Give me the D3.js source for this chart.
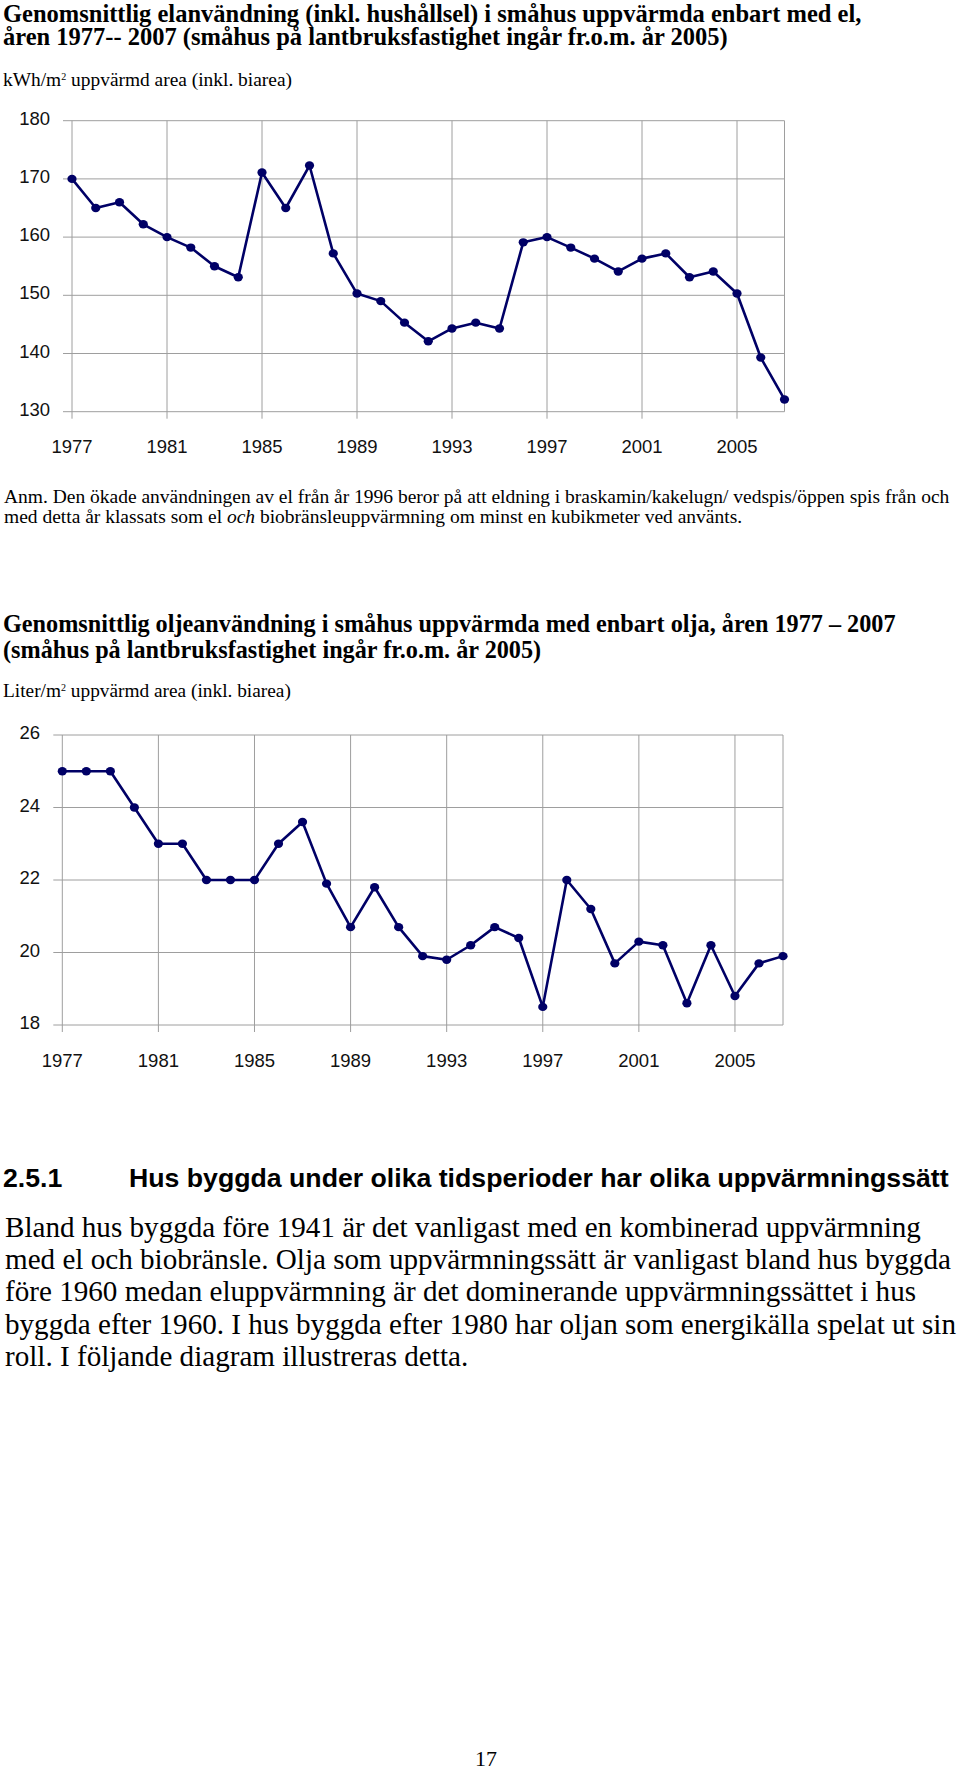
<!DOCTYPE html>
<html>
<head>
<meta charset="utf-8">
<script src="https://cdn.jsdelivr.net/npm/d3@7"></script>
<style>
  body { margin: 0; background: #fff; }
  svg { display: block; }
</style>
</head>
<body>
<svg id="page" width="960" height="1770"></svg>
<script>
// år 1977 - 2007
const years = d3.range(1977, 2008);

// kWh/m2, småhus med enbart el
const elValues = [170, 165, 166, 162.2, 160, 158.2, 155, 153.1, 171.1, 165, 172.3,
  157.2, 150.3, 149, 145.3, 142.1, 144.3, 145.3, 144.3, 159.1, 160, 158.2, 156.3,
  154.1, 156.3, 157.2, 153.1, 154.1, 150.3, 139.3, 132.1];

// liter/m2, småhus med enbart olja
const oljaValues = [25, 25, 25, 24, 23, 23, 22, 22, 22, 23, 23.6, 21.9, 20.7, 21.8,
  20.7, 19.9, 19.8, 20.2, 20.7, 20.4, 18.5, 22, 21.2, 19.7, 20.3, 20.2, 18.6, 20.2,
  18.8, 19.7, 19.9];

const xTickYears = [1977, 1981, 1985, 1989, 1993, 1997, 2001, 2005];
const elTicks = [130, 140, 150, 160, 170, 180];
const oljaTicks = [18, 20, 22, 24, 26];

var svg = d3.select("#page");
const serif = "'Liberation Serif', 'Times New Roman', serif";
const sans = "'Liberation Sans', Arial, sans-serif";
const gridColor = "#9e9e9e";
const lineColor = "#000066";

// skriv en textrad
function textLine(x, y, size, opts) {
  opts = opts || {};
  return svg.append("text")
    .attr("x", x)
    .attr("y", y)
    .attr("font-family", opts.family || serif)
    .attr("font-size", size)
    .attr("font-weight", opts.bold ? "bold" : "normal")
    .attr("fill", "#000");
}

// sätt samma teckenstorlek på flera rader så att en av dem får given bredd
function fitBlock(lines, ref, target) {
  const w = ref.node().getComputedTextLength();
  const fs = +ref.attr("font-size") * target / w;
  lines.forEach(l => l.attr("font-size", fs));
  return fs;
}

// ett linjediagram med rutnät
function drawChart(cfg) {
  const x = d3.scaleLinear().domain([1977, 2007]).range([cfg.left, cfg.right]);
  const y = d3.scaleLinear().domain(cfg.domain).range([cfg.bottom, cfg.top]);
  const g = svg.append("g");

  // horisontella linjer
  g.selectAll("line.h")
    .data(cfg.ticks)
    .enter()
    .append("line")
    .attr("x1", cfg.left - cfg.tickLen)
    .attr("x2", cfg.right)
    .attr("y1", d => y(d))
    .attr("y2", d => y(d))
    .attr("stroke", gridColor)
    .attr("stroke-width", 1);

  // vertikala linjer
  g.selectAll("line.v")
    .data(xTickYears)
    .enter()
    .append("line")
    .attr("x1", d => x(d))
    .attr("x2", d => x(d))
    .attr("y1", cfg.top)
    .attr("y2", cfg.bottom + cfg.tickLen - 2)
    .attr("stroke", gridColor)
    .attr("stroke-width", 1);

  // högerkant
  g.append("line")
    .attr("x1", x(2007)).attr("x2", x(2007))
    .attr("y1", cfg.top).attr("y2", cfg.bottom)
    .attr("stroke", gridColor)
    .attr("stroke-width", 1);

  // y-etiketter
  g.selectAll("text.y")
    .data(cfg.ticks)
    .enter()
    .append("text")
    .attr("x", cfg.labelRight)
    .attr("y", d => y(d) + 4)
    .attr("text-anchor", "end")
    .attr("font-family", sans)
    .attr("font-size", 18.5)
    .attr("fill", "#111")
    .text(d => d);

  // x-etiketter
  g.selectAll("text.x")
    .data(xTickYears)
    .enter()
    .append("text")
    .attr("x", d => x(d))
    .attr("y", cfg.xLabelY)
    .attr("text-anchor", "middle")
    .attr("font-family", sans)
    .attr("font-size", 18.5)
    .attr("fill", "#111")
    .text(d => d);

  const pts = years.map((yr, i) => ({ year: yr, value: cfg.values[i] }));

  g.append("path")
    .datum(pts)
    .attr("fill", "none")
    .attr("stroke", lineColor)
    .attr("stroke-width", 2.6)
    .attr("stroke-linejoin", "round")
    .attr("d", d3.line().x(d => x(d.year)).y(d => y(d.value)));

  g.selectAll("ellipse")
    .data(pts)
    .enter()
    .append("ellipse")
    .attr("cx", d => x(d.year))
    .attr("cy", d => y(d.value))
    .attr("rx", 4.6)
    .attr("ry", 4.2)
    .attr("fill", lineColor);
}

// --- diagram 1: el ---
const t1a = textLine(3, 21.5, 22, { bold: true })
  .text("Genomsnittlig elanvändning (inkl. hushållsel) i småhus uppvärmda enbart med el,");
const t1b = textLine(3, 44.5, 22, { bold: true })
  .text("åren 1977-- 2007 (småhus på lantbruksfastighet ingår fr.o.m. år 2005)");
fitBlock([t1a, t1b], t1b, 725);

const sub1 = textLine(3, 86, 16.5);
sub1.append("tspan").text("kWh/m");
sub1.append("tspan").attr("font-size", 10).attr("dy", -6).text("2");
sub1.append("tspan").attr("dy", 6).text(" uppvärmd area (inkl. biarea)");
fitBlock([sub1], sub1, 290);

drawChart({
  values: elValues, domain: [130, 180], ticks: elTicks,
  left: 72, right: 784.5, top: 120.7, bottom: 411.7,
  tickLen: 9, labelRight: 50, xLabelY: 453
});

// anmärkning
const anm1 = textLine(4, 503, 16)
  .text("Anm. Den ökade användningen av el från år 1996 beror på att eldning i braskamin/kakelugn/ vedspis/öppen spis från och");
const anm2 = textLine(4, 523, 16);
anm2.append("tspan").text("med detta år klassats som el ");
anm2.append("tspan").attr("font-style", "italic").text("och");
anm2.append("tspan").text(" biobränsleuppvärmning om minst en kubikmeter ved använts.");
fitBlock([anm1, anm2], anm1, 946);

// --- diagram 2: olja ---
const t2a = textLine(3, 631.5, 22, { bold: true })
  .text("Genomsnittlig oljeanvändning i småhus uppvärmda med enbart olja, åren 1977 – 2007");
const t2b = textLine(3, 657.5, 22, { bold: true })
  .text("(småhus på lantbruksfastighet ingår fr.o.m. år 2005)");
fitBlock([t2a, t2b], t2a, 893);

const sub2 = textLine(3, 696.5, 16.5);
sub2.append("tspan").text("Liter/m");
sub2.append("tspan").attr("font-size", 10).attr("dy", -6).text("2");
sub2.append("tspan").attr("dy", 6).text(" uppvärmd area (inkl. biarea)");
fitBlock([sub2], sub2, 289);

drawChart({
  values: oljaValues, domain: [18, 26], ticks: oljaTicks,
  left: 62.3, right: 783, top: 735, bottom: 1025,
  tickLen: 9, labelRight: 40, xLabelY: 1067
});

// --- avsnitt 2.5.1 ---
const h1 = textLine(3, 1187, 22, { bold: true, family: sans }).text("2.5.1");
const h2 = textLine(129, 1187, 22, { bold: true, family: sans })
  .text("Hus byggda under olika tidsperioder har olika uppvärmningssätt");
fitBlock([h1, h2], h2, 820);

const para = [
  "Bland hus byggda före 1941 är det vanligast med en kombinerad uppvärmning",
  "med el och biobränsle. Olja som uppvärmningssätt är vanligast bland hus byggda",
  "före 1960 medan eluppvärmning är det dominerande uppvärmningssättet i hus",
  "byggda efter 1960. I hus byggda efter 1980 har oljan som energikälla spelat ut sin",
  "roll. I följande diagram illustreras detta."
];
const paraLines = para.map((p, i) => textLine(5, 1237 + i * 32.2, 24).text(p));
fitBlock(paraLines, paraLines[1], 946);

// sidnummer
textLine(486, 1766, 22).attr("text-anchor", "middle").text("17");
</script>
</body>
</html>
